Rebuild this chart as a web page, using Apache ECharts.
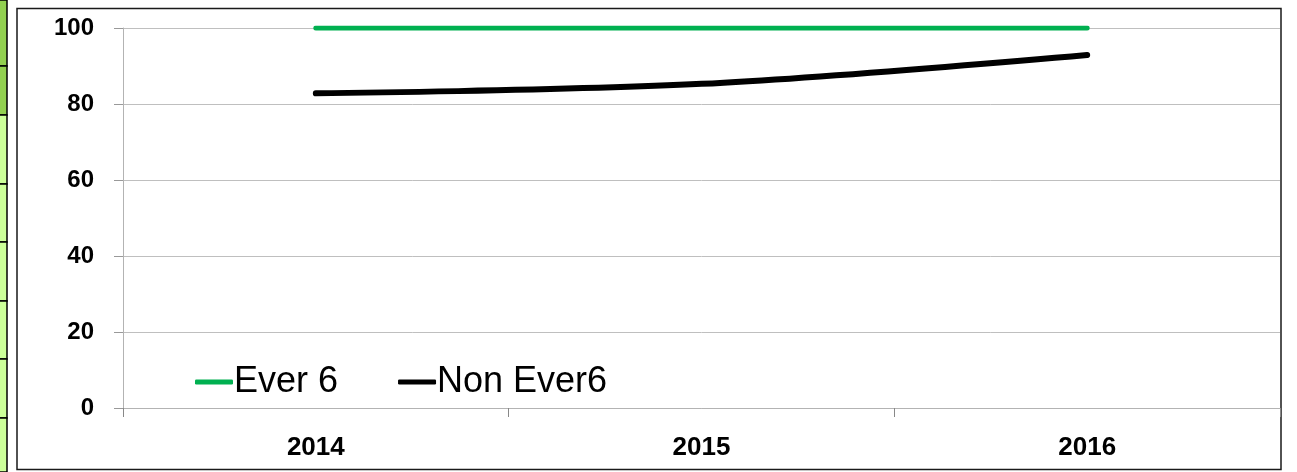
<!DOCTYPE html>
<html><head><meta charset="utf-8">
<script src="https://cdn.jsdelivr.net/npm/echarts@6/dist/echarts.min.js"></script>
<style>html,body{margin:0;padding:0;background:#fff}#c{width:1297px;height:472px}</style>
</head><body><div id="c"></div>
<script>
const categories = ['2014', '2015', '2016'];
const ever6 = [100, 100, 100];
const nonEver6 = [82.8, 85.3, 92.9];
const yTicks = { min: 0, max: 100, interval: 20 };
const seriesNames = ['Ever 6', 'Non Ever6'];

const chart = echarts.init(document.getElementById('c'), null, { renderer: 'canvas' });

// decorative spreadsheet cells at the left edge
const cellRows = [0, 66, 115, 184, 242, 301, 359, 418, 472];
const cellGraphics = [];
for (let i = 0; i < cellRows.length - 1; i++) {
  cellGraphics.push({
    type: 'rect', z: 0,
    shape: { x: -1, y: cellRows[i], width: 8, height: cellRows[i + 1] - cellRows[i] },
    style: { fill: i < 2 ? '#92d050' : '#ccff99', stroke: '#000', lineWidth: 1.5 }
  });
}

chart.setOption({
  animation: false,
  graphic: cellGraphics.concat([
    { type: 'rect', z: 0, shape: { x: 17, y: 8.5, width: 1264, height: 461 },
      style: { fill: 'none', stroke: '#1a1a1a', lineWidth: 1.5 } }
  ]),
  grid: { left: 123, right: 17, top: 28, bottom: 64, containLabel: false },
  legend: {
    left: 190, top: 359,
    itemWidth: 38, itemHeight: 5, itemGap: 60,
    icon: 'roundRect',
    textStyle: { fontFamily: 'Liberation Sans', fontSize: 36, color: '#000', padding: [0, 0, 0, -4] },
    data: seriesNames
  },
  xAxis: {
    type: 'category', data: categories, boundaryGap: true,
    axisLine: { show: true, lineStyle: { color: '#b3b3b3', width: 1 } },
    axisTick: { show: true, length: 9, lineStyle: { color: '#888' } },
    axisLabel: { fontFamily: 'Liberation Sans', fontWeight: 'bold', fontSize: 26, color: '#000', margin: 27 }
  },
  yAxis: {
    type: 'value', min: yTicks.min, max: yTicks.max, interval: yTicks.interval,
    axisLine: { show: true, lineStyle: { color: '#b3b3b3', width: 1 } },
    axisTick: { show: true, length: 9, lineStyle: { color: '#999' } },
    splitLine: { show: true, lineStyle: { color: '#bfbfbf', width: 1 } },
    axisLabel: { fontFamily: 'Liberation Sans', fontWeight: 'bold', fontSize: 24, color: '#000', margin: 29 }
  },
  series: [
    { name: seriesNames[0], type: 'line', data: ever6, symbol: 'none',
      itemStyle: { color: '#00b050' },
      lineStyle: { color: '#00b050', width: 5, cap: 'round' } },
    { name: seriesNames[1], type: 'line', data: nonEver6, symbol: 'none', smooth: 0.35,
      itemStyle: { color: '#000' },
      lineStyle: { color: '#000', width: 6, cap: 'round' } }
  ]
});
</script>
</body></html>
